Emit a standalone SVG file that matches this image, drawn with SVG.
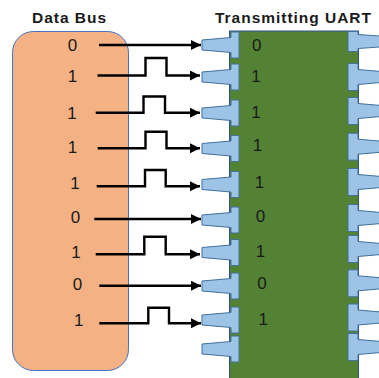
<svg xmlns="http://www.w3.org/2000/svg" xmlns:xlink="http://www.w3.org/1999/xlink" width="379" height="378" viewBox="0 0 379 378">
<style>
.title{font-family:"Liberation Sans",Arial,sans-serif;font-weight:bold;font-size:15.5px;fill:#1a1a1a;text-anchor:middle}
.bit{font-family:"Liberation Sans",Arial,sans-serif;font-size:17px;fill:#1a1a1a;text-anchor:middle}
.pin{fill:#9DC3E6;stroke:#41719C;stroke-width:1}
.wire{fill:none;stroke:#000;stroke-width:2.4;stroke-linejoin:miter}
</style>
<defs>
<marker id="ah" markerUnits="userSpaceOnUse" markerWidth="12" markerHeight="10" refX="10" refY="5" orient="auto">
<path d="M0,0 L10,5 L0,10 Z" fill="#000"/>
</marker>
<path id="lp" class="pin" d="M202,-5 L231,-7.5 L231,-13 L239,-13 L239,13 L231,13 L231,7.5 L202,5 Z"/>
<path id="rp" class="pin" d="M387,-5 L358,-7.5 L358,-13.5 L348,-13.5 L348,13.5 L358,13.5 L358,7.5 L387,5 Z"/>
</defs>
<rect width="379" height="378" fill="#fff"/>
<text class="title" x="69" y="22.5" textLength="74">Data Bus</text>
<text class="title" x="293" y="22.5" textLength="156">Transmitting UART</text>
<g id="data-bus">
<rect x="12.5" y="31.5" width="116" height="339" rx="21" ry="21" fill="#F4B183" stroke="#4472C4" stroke-width="1"/>
<text class="bit" x="72.5" y="51.1">0</text>
<text class="bit" x="72.5" y="81.6">1</text>
<text class="bit" x="72" y="118.8">1</text>
<text class="bit" x="72.5" y="152.8">1</text>
<text class="bit" x="75" y="189.4">1</text>
<text class="bit" x="75.5" y="222.8">0</text>
<text class="bit" x="76" y="258.4">1</text>
<text class="bit" x="77.5" y="290.1">0</text>
<text class="bit" x="78.7" y="326.1">1</text>
</g>
<g id="uart">
<rect x="229.5" y="31" width="129" height="350" fill="#548235" stroke="#2F528F" stroke-width="1"/>
<use xlink:href="#lp" y="45"/>
<use xlink:href="#lp" y="77"/>
<use xlink:href="#lp" y="113"/>
<use xlink:href="#lp" y="148.5"/>
<use xlink:href="#lp" y="184.5"/>
<use xlink:href="#lp" y="220"/>
<use xlink:href="#lp" y="252.5"/>
<use xlink:href="#lp" y="286"/>
<use xlink:href="#lp" y="320"/>
<use xlink:href="#lp" y="349"/>
<path class="pin" d="M387,36.5 L358,34.5 L358,31.5 L348,31.5 L348,51.5 L358,51.5 L358,48.5 L387,46.5 Z"/>
<use xlink:href="#rp" y="77"/>
<use xlink:href="#rp" y="111"/>
<use xlink:href="#rp" y="146.7"/>
<use xlink:href="#rp" y="182"/>
<use xlink:href="#rp" y="218"/>
<use xlink:href="#rp" y="249"/>
<use xlink:href="#rp" y="283.3"/>
<use xlink:href="#rp" y="317.5"/>
<use xlink:href="#rp" y="347"/>
<text class="bit" x="256.7" y="51.1">0</text>
<text class="bit" x="256" y="81.6">1</text>
<text class="bit" x="256" y="118.1">1</text>
<text class="bit" x="257.5" y="151.1">1</text>
<text class="bit" x="259.5" y="187.8">1</text>
<text class="bit" x="260.5" y="221.8">0</text>
<text class="bit" x="260.5" y="256.8">1</text>
<text class="bit" x="262" y="289.4">0</text>
<text class="bit" x="263.3" y="325.1">1</text>
</g>
<g id="connectors">
<path class="wire" marker-end="url(#ah)" d="M99,45 H201"/>
<path class="wire" marker-end="url(#ah)" d="M97.5,75.5 H145.5 V58 H166.5 V75.5 H200"/>
<path class="wire" marker-end="url(#ah)" d="M95.7,112.7 H143.5 V96.5 H165 V112.7 H200"/>
<path class="wire" marker-end="url(#ah)" d="M97.7,148.3 H145.5 V131.7 H166.5 V148.3 H200"/>
<path class="wire" marker-end="url(#ah)" d="M96.7,186.3 H145 V170 H165.7 V186.3 H200"/>
<path class="wire" marker-end="url(#ah)" d="M94.3,219 H201"/>
<path class="wire" marker-end="url(#ah)" d="M95.7,254.3 H144.3 V236.7 H165.7 V254.3 H200"/>
<path class="wire" marker-end="url(#ah)" d="M99.3,285.7 H201"/>
<path class="wire" marker-end="url(#ah)" d="M99.3,323.3 H148.3 V307.7 H169 V323.3 H201"/>
</g>
</svg>
